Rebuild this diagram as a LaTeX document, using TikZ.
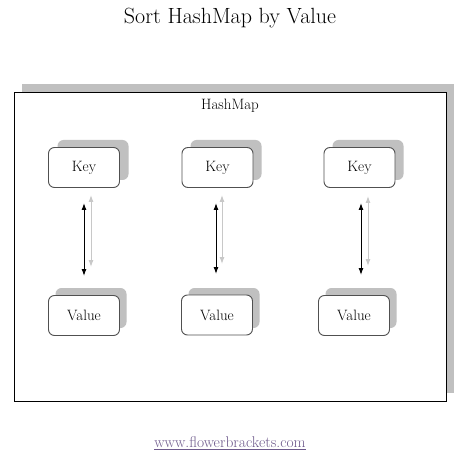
\documentclass[tikz,border=0pt]{standalone}
\usetikzlibrary{arrows.meta}
\definecolor{shadowgrey}{HTML}{C0C0C0}
\definecolor{lightarr}{HTML}{C8C8C8}
\definecolor{boxline}{HTML}{505050}
\definecolor{urlcol}{HTML}{6E5A8C}
\begin{document}
\begin{tikzpicture}[x=1pt,y=-1pt,
  shadowbox/.style={fill=shadowgrey, draw=none, rounded corners=6pt, minimum width=71pt, minimum height=40pt, inner sep=0pt},
  itembox/.style={fill=white, draw=boxline, line width=0.9pt, rounded corners=6pt, minimum width=71pt, minimum height=40pt, inner sep=0pt, font=\fontsize{15}{17}\selectfont},
  darkarrow/.style={{Latex[length=7pt,width=5pt]}-{Latex[length=7pt,width=5pt]}, line width=1pt, black},
  greyarrow/.style={{Latex[length=7pt,width=5pt]}-{Latex[length=7pt,width=5pt]}, line width=1pt, lightarr}
]
\useasboundingbox (0,0) rectangle (465,462);
\fill[white] (0,0) rectangle (465,462);
\node (title) at (230,18) {\fontsize{22}{26}\selectfont Sort HashMap by Value};
% outer container
\fill[shadowgrey] (22,84) rectangle (454,393);
\draw[black, line width=0.8pt, fill=white] (14,92) rectangle (446,401);
\node (hm) at (230,106) {\fontsize{15}{17}\selectfont HashMap};
% column 1
\node[shadowbox] (ks1) at (93,160) {};
\node[itembox] (k1) at (84,167.5) {Key};
\node[shadowbox] (vs1) at (91,308) {};
\node[itembox] (v1) at (84,315.5) {Value};
% column 2
\node[shadowbox] (ks2) at (226,160) {};
\node[itembox] (k2) at (217.5,167.5) {Key};
\node[shadowbox] (vs2) at (224,308) {};
\node[itembox] (v2) at (217,315) {Value};
% column 3
\node[shadowbox] (ks3) at (368,160) {};
\node[itembox] (k3) at (359.5,167.5) {Key};
\node[shadowbox] (vs3) at (361,308) {};
\node[itembox] (v3) at (354,315.5) {Value};
% arrows
\coordinate (a1t) at (84,203); \coordinate (a1b) at (84,276);
\coordinate (g1t) at (91,195); \coordinate (g1b) at (91,267);
\coordinate (a2t) at (216,203); \coordinate (a2b) at (216,274);
\coordinate (g2t) at (222,195); \coordinate (g2b) at (222,264);
\coordinate (a3t) at (361,203); \coordinate (a3b) at (361,275);
\coordinate (g3t) at (368,196); \coordinate (g3b) at (368,266);
\draw[greyarrow] (g1t) -- (g1b);
\draw[darkarrow] (a1t) -- (a1b);
\draw[greyarrow] (g2t) -- (g2b);
\draw[darkarrow] (a2t) -- (a2b);
\draw[greyarrow] (g3t) -- (g3b);
\draw[darkarrow] (a3t) -- (a3b);
\node[text=urlcol, inner sep=1pt] (url) at (230,443) {\fontsize{15.5}{18}\selectfont\underline{www.flowerbrackets.com}};
\end{tikzpicture}
\end{document}
